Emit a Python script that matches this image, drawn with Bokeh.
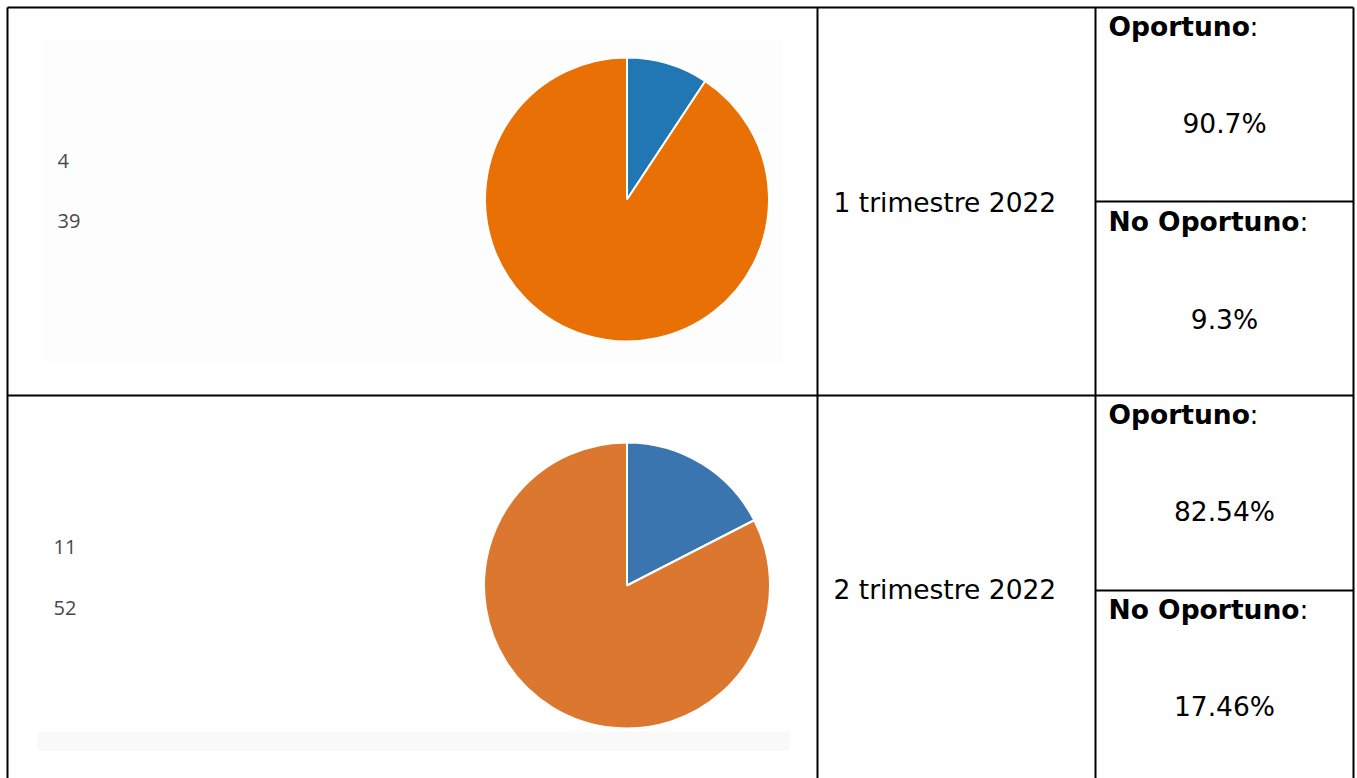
from math import pi
from bokeh.plotting import figure
from bokeh.models import Range1d
from bokeh.core.properties import value
from bokeh.embed import file_html
from bokeh.resources import INLINE

# ---- data ----
periods = ["1 trimestre 2022", "2 trimestre 2022"]
no_oportuno = [4, 11]
oportuno = [39, 52]
pct_oportuno = ["90.7%", "82.54%"]
pct_no_oportuno = ["9.3%", "17.46%"]

blue = ["#2177b4", "#3b75af"]
orange = ["#e87004", "#db772e"]

W, H = 1357, 778


def Y(v):
    # page coordinates are measured from the top
    return H - v


p = figure(width=W, height=H, output_backend="svg", toolbar_location=None,
           x_range=Range1d(0, W), y_range=Range1d(0, H),
           x_axis_location=None, y_axis_location=None, min_border=0)
p.outline_line_color = None
p.xgrid.visible = False
p.ygrid.visible = False
p.background_fill_color = "white"
p.border_fill_color = "white"

# table geometry
left, right, top = 7, 1353, 7
col1, col2 = 817, 1095
row_sep = 395
split = [201, 590]

# faint backdrops of the embedded chart images
p.quad(left=[42], right=[782], top=[Y(39)], bottom=[Y(362)],
       fill_color="#fdfdfd", line_color=None)
p.quad(left=[37], right=[789], top=[Y(731)], bottom=[Y(750)],
       fill_color="#f9f9f9", line_color=None)

pie_cx = [626.5, 626.5]
pie_cy = [199, 585]
pie_r = [142, 143]

for i in range(2):
    total = no_oportuno[i] + oportuno[i]
    theta = 2 * pi * no_oportuno[i] / total
    # slices run clockwise from 12 o'clock
    p.wedge(x=[pie_cx[i]], y=[Y(pie_cy[i])], radius=[pie_r[i]],
            start_angle=[pi / 2 - theta], end_angle=[pi / 2],
            direction="anticlock", fill_color=blue[i],
            line_color="white", line_width=2)
    p.wedge(x=[pie_cx[i]], y=[Y(pie_cy[i])], radius=[pie_r[i]],
            start_angle=[pi / 2], end_angle=[pi / 2 - theta + 2 * pi],
            direction="anticlock", fill_color=orange[i],
            line_color="white", line_width=2)

# counts next to the pies (vertical centres)
count_x = [57, 53]
count_mid = [(160, 220), (546, 607)]
for i in range(2):
    p.text(x=[count_x[i], count_x[i]],
           y=[Y(count_mid[i][0]), Y(count_mid[i][1])],
           text=[str(no_oportuno[i]), str(oportuno[i])],
           text_font=value("Open Sans"), text_font_size="20px",
           text_color="#484848", text_baseline="middle", text_align="left")

# period labels
period_mid = [202, 589]
p.text(x=[833, 833], y=[Y(b) for b in period_mid], text=periods,
       text_font=value("DejaVu Sans"), text_font_size="26.5px",
       text_color="black", text_baseline="middle", text_align="left")

# right column: headings and percentages
head_x = 1108
op_mid = [26, 414]
nop_mid = [221, 609]
pct_op_mid = [123, 511]
pct_nop_mid = [319, 706]
pct_x = 1224
bold_w_op = 141
bold_w_nop = 191

common = dict(text_font=value("DejaVu Sans"), text_font_size="26.5px",
              text_color="black", text_baseline="middle")

p.text(x=[head_x] * 2, y=[Y(b) for b in op_mid], text=["Oportuno"] * 2,
       text_font_style="bold", text_align="left", **common)
p.text(x=[head_x + bold_w_op] * 2, y=[Y(b) for b in op_mid], text=[":"] * 2,
       text_align="left", **common)
p.text(x=[head_x] * 2, y=[Y(b) for b in nop_mid], text=["No Oportuno"] * 2,
       text_font_style="bold", text_align="left", **common)
p.text(x=[head_x + bold_w_nop] * 2, y=[Y(b) for b in nop_mid], text=[":"] * 2,
       text_align="left", **common)
p.text(x=[pct_x] * 2, y=[Y(b) for b in pct_op_mid], text=pct_oportuno,
       text_align="center", **common)
p.text(x=[pct_x] * 2, y=[Y(b) for b in pct_nop_mid], text=pct_no_oportuno,
       text_align="center", **common)

# table rules
x0 = [left, left, col1, col2, right, left, col2, col2]
x1 = [right, right, col1, col2, right, left, right, right]
y0 = [top, row_sep, top, top, top, top, split[0], split[1]]
y1 = [top, row_sep, H, H, H, H, split[0], split[1]]
p.segment(x0=x0, y0=[Y(v) for v in y0], x1=x1, y1=[Y(v) for v in y1],
          line_color="black", line_width=2)

open("out.html", "w").write(file_html(p, INLINE))
